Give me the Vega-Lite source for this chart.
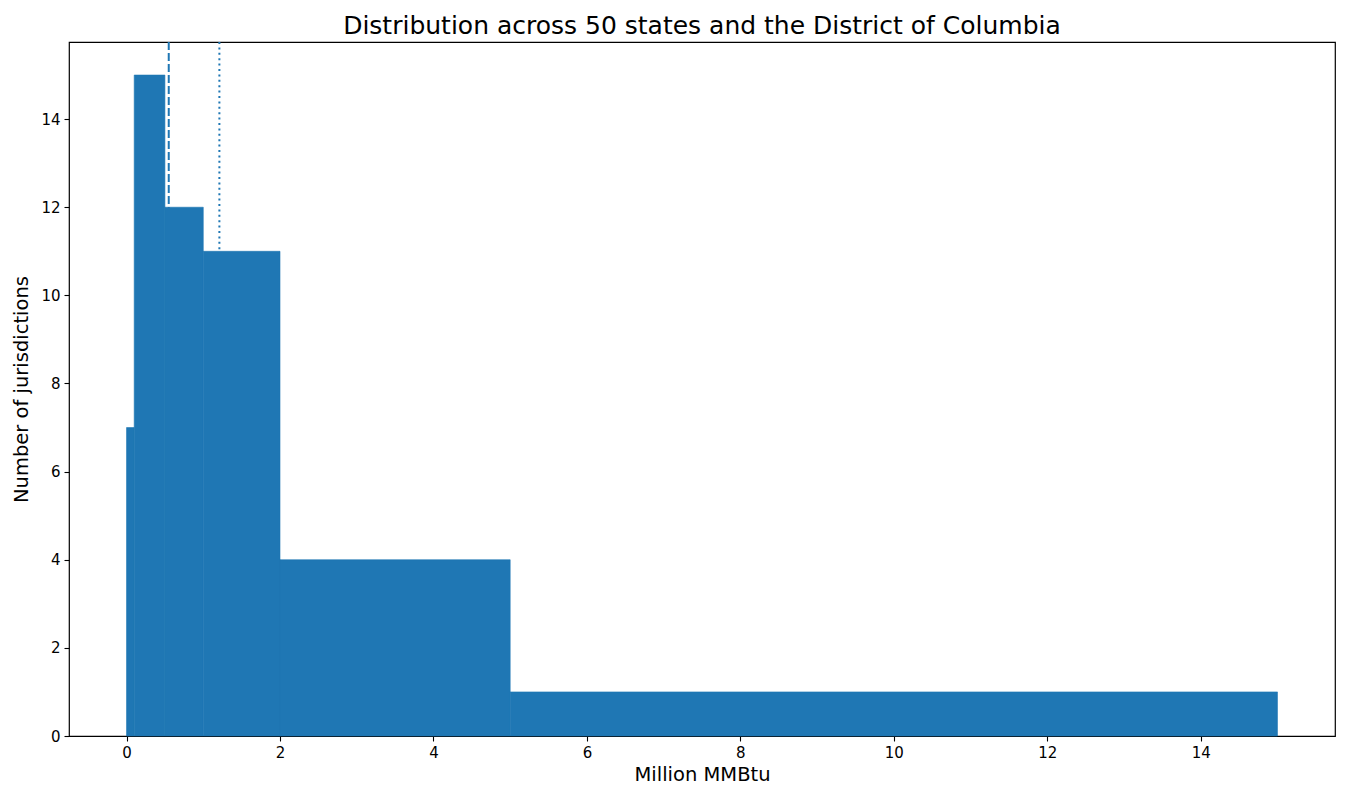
{
  "$schema": "https://vega.github.io/schema/vega-lite/v6.json",
  "autosize": {"type": "none"},
  "padding": {"left": 69, "top": 42, "right": 15, "bottom": 64},
  "width": 1266,
  "height": 694,
  "background": "white",
  "config": {
    "font": "DejaVu Sans",
    "view": {"stroke": "black", "strokeWidth": 1.2},
    "axis": {
      "domain": false,
      "grid": false,
      "tickColor": "black",
      "tickSize": 5,
      "tickWidth": 1.1,
      "labelColor": "black",
      "labelFontSize": 15,
      "labelPadding": 4,
      "format": "d",
      "titleColor": "black",
      "titleFontSize": 19.5,
      "titleFontWeight": "normal"
    }
  },
  "title": {
    "text": "Distribution across 50 states and the District of Columbia",
    "fontSize": 25,
    "fontWeight": "normal",
    "color": "black",
    "offset": 2
  },
  "datasets": {
    "bins": [
      {"start": 0, "end": 0.1, "count": 7},
      {"start": 0.1, "end": 0.5, "count": 15},
      {"start": 0.5, "end": 1, "count": 12},
      {"start": 1, "end": 2, "count": 11},
      {"start": 2, "end": 5, "count": 4},
      {"start": 5, "end": 15, "count": 1}
    ],
    "stats": [
      {"stat": "median", "value": 0.55},
      {"stat": "mean", "value": 1.21}
    ]
  },
  "layer": [
    {
      "data": {"name": "stats"},
      "mark": {"type": "rule", "color": "#1f77b4", "strokeWidth": 2},
      "encoding": {
        "x": {"field": "value", "type": "quantitative"},
        "strokeDash": {
          "field": "stat",
          "type": "nominal",
          "scale": {"domain": ["median", "mean"], "range": [[8, 3], [2, 3.4]]},
          "legend": null
        }
      }
    },
    {
      "data": {"name": "bins"},
      "mark": {"type": "rect", "color": "#1f77b4", "stroke": "#1f77b4", "strokeWidth": 0.6},
      "encoding": {
        "x": {
          "field": "start",
          "type": "quantitative",
          "title": "Million MMBtu",
          "scale": {"domain": [-0.75, 15.75], "nice": false, "zero": false},
          "axis": {"values": [0, 2, 4, 6, 8, 10, 12, 14], "titlePadding": 5}
        },
        "x2": {"field": "end"},
        "y": {
          "field": "count",
          "type": "quantitative",
          "title": "Number of jurisdictions",
          "scale": {"domain": [0, 15.75], "nice": false},
          "axis": {"values": [0, 2, 4, 6, 8, 10, 12, 14], "titlePadding": 9}
        },
        "y2": {"datum": 0}
      }
    }
  ]
}
